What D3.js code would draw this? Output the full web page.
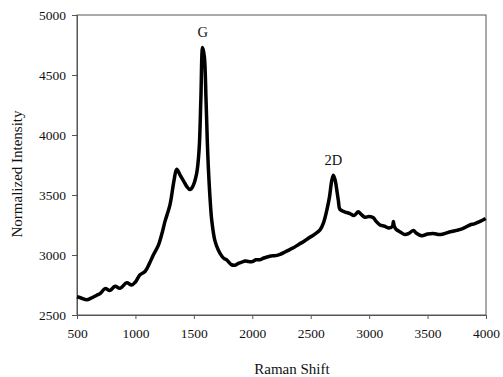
<!DOCTYPE html>
<html>
<head>
<meta charset="utf-8">
<script src="https://cdn.jsdelivr.net/npm/d3@7"></script>
<style>
  body { margin: 0; background: #fff; }
  svg text { font-family: "Liberation Serif", "DejaVu Serif", serif; fill: #111; }
</style>
</head>
<body>
<div id="chart"></div>
<script>
// Espectro Raman
const shift = [500, 540, 583, 620, 669, 700, 740, 782, 825, 868, 925, 968, 1000, 1039, 1082, 1120, 1153, 1196, 1230, 1253,
  1296, 1330, 1353, 1380, 1410, 1440, 1467, 1490, 1524, 1545, 1560, 1575, 1590, 1604, 1615, 1624, 1640, 1653, 1680, 1710,
  1740, 1760, 1781, 1800, 1820, 1852, 1880, 1910, 1938, 1970, 2000, 2030, 2066, 2100, 2150, 2200, 2237, 2280, 2320, 2351,
  2400, 2437, 2480, 2522, 2580, 2610, 2637, 2660, 2680, 2694, 2710, 2725, 2737, 2750, 2790, 2836, 2870, 2907, 2930, 2964,
  3000, 3036, 3060, 3093, 3130, 3170, 3200, 3207, 3215, 3230, 3270, 3307, 3340, 3379, 3400, 3449, 3500, 3549, 3600, 3635,
  3680, 3749, 3800, 3863, 3900, 3950, 3997];
const intensity = [2652, 2640, 2628, 2640, 2665, 2680, 2720, 2705, 2740, 2722, 2768, 2750, 2775, 2835, 2862, 2930, 3000, 3080, 3190, 3280,
  3420, 3620, 3715, 3670, 3620, 3570, 3545, 3570, 3680, 3880, 4300, 4730, 4650, 4300, 3950, 3730, 3450, 3290, 3120, 3040,
  2990, 2970, 2960, 2940, 2920, 2915, 2930, 2940, 2950, 2945, 2945, 2960, 2960, 2975, 2990, 2995, 3005, 3025, 3045, 3060,
  3090, 3110, 3140, 3165, 3210, 3270, 3370, 3480, 3620, 3665, 3620, 3530, 3450, 3380, 3360, 3345, 3330, 3360, 3340, 3315,
  3320, 3310, 3280, 3250, 3240, 3225, 3240, 3280, 3240, 3215, 3190, 3170, 3180, 3205, 3185, 3160, 3175, 3180, 3170, 3175,
  3190, 3205, 3220, 3250, 3260, 3280, 3305];

const xTicks = [500, 1000, 1500, 2000, 2500, 3000, 3500, 4000];
const yTicks = [2500, 3000, 3500, 4000, 4500, 5000];

const peakNames = ['G', '2D'];
const peakShift = [1575, 2694];
const peakIntensity = [4730, 3665];

const width = 503, height = 377;
const margin = { top: 15, right: 17, bottom: 62, left: 77 };
const innerW = width - margin.left - margin.right;
const innerH = height - margin.top - margin.bottom;

const svg = d3.select('#chart').append('svg')
  .attr('width', width)
  .attr('height', height);

const g = svg.append('g')
  .attr('transform', `translate(${margin.left},${margin.top})`);

const x = d3.scaleLinear().domain([500, 4000]).range([0, innerW]);
const y = d3.scaleLinear().domain([2500, 5000]).range([innerH, 0]);

// Moldura
g.append('rect')
  .attr('width', innerW)
  .attr('height', innerH)
  .attr('fill', 'none')
  .attr('stroke', '#555')
  .attr('stroke-width', 1);

// Eixos
const xAxis = g.append('g')
  .attr('transform', `translate(0,${innerH})`)
  .call(d3.axisBottom(x).tickValues(xTicks).tickSize(4).tickPadding(9).tickFormat(d3.format('d')));
const yAxis = g.append('g')
  .call(d3.axisLeft(y).tickValues(yTicks).tickSize(5).tickPadding(6).tickFormat(d3.format('d')));

[xAxis, yAxis].forEach(a => {
  a.select('.domain').attr('stroke', '#555');
  a.selectAll('.tick line').attr('stroke', '#555');
  a.selectAll('.tick text')
    .style('font-family', '"Liberation Serif", serif')
    .style('font-size', '13.5px')
    .attr('fill', '#111');
});

// Curva
const line = d3.line()
  .x((d, i) => x(shift[i]))
  .y((d, i) => y(intensity[i]))
  .curve(d3.curveCatmullRom.alpha(0.5));

g.append('path')
  .datum(shift)
  .attr('d', line)
  .attr('fill', 'none')
  .attr('stroke', '#000')
  .attr('stroke-width', 3.5)
  .attr('stroke-linejoin', 'round');

// Rótulos dos picos
g.selectAll('.peak')
  .data(peakNames)
  .enter()
  .append('text')
  .attr('class', 'peak')
  .attr('x', (d, i) => x(peakShift[i]))
  .attr('y', (d, i) => y(peakIntensity[i]) - 10)
  .attr('text-anchor', 'middle')
  .style('font-size', '14.5px')
  .text(d => d);

// Títulos dos eixos
svg.append('text')
  .attr('x', 292)
  .attr('y', 374)
  .attr('text-anchor', 'middle')
  .style('font-size', '15px')
  .text('Raman Shift');

svg.append('text')
  .attr('transform', 'translate(22,174) rotate(-90)')
  .attr('text-anchor', 'middle')
  .style('font-size', '15px')
  .text('Normalized Intensity');
</script>
</body>
</html>
